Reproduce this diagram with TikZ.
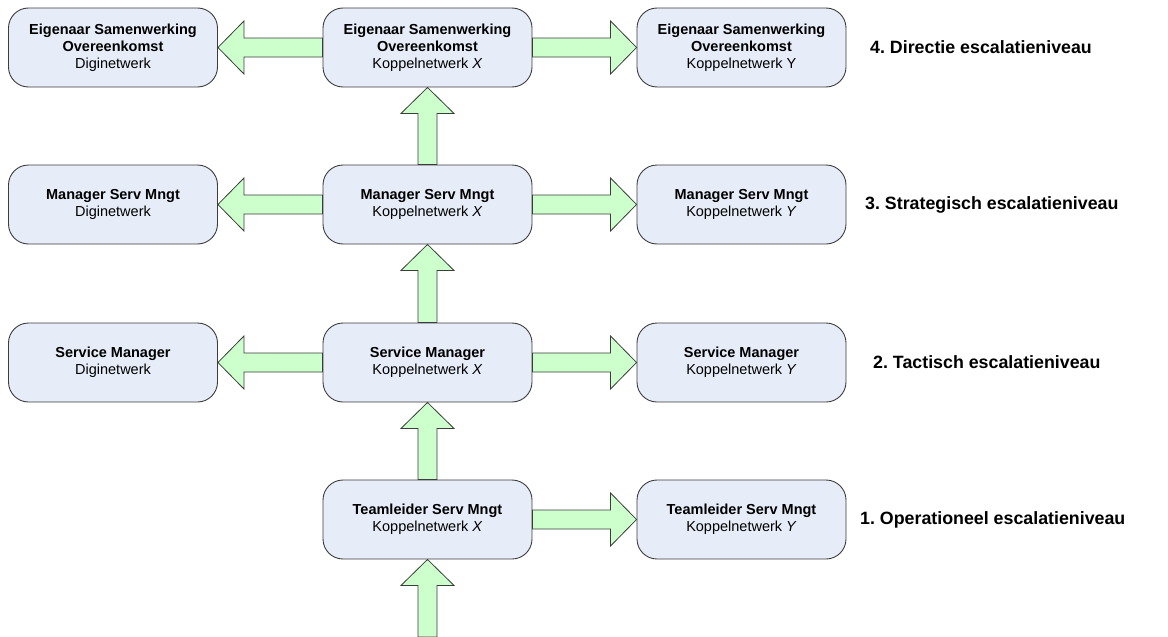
\documentclass[tikz,border=0pt]{standalone}
\usepackage{fontspec}
\setmainfont{Liberation Sans}
\usetikzlibrary{calc}
\frenchspacing

\definecolor{boxfill}{HTML}{E6ECF8}
\definecolor{boxline}{HTML}{3C3C3C}
\definecolor{arrowfill}{HTML}{CCFFCC}

% Block arrow from #1 to #2: shaft half width 9.5pt, head half width 26.5pt, head length 26pt
\newcommand\fatarrow[2]{%
  \path (#1) coordinate (fa-s) (#2) coordinate (fa-e);
  \path ($(fa-e)!26pt!(fa-s)$) coordinate (fa-b);
  \draw[fatarrow]
    ($(fa-s)!9.5pt!90:(fa-e)$) --
    ($(fa-b)!9.5pt!-90:(fa-s)$) --
    ($(fa-b)!26.5pt!-90:(fa-s)$) --
    (fa-e) --
    ($(fa-b)!26.5pt!90:(fa-s)$) --
    ($(fa-b)!9.5pt!90:(fa-s)$) --
    ($(fa-s)!9.5pt!-90:(fa-e)$) -- cycle;}

\tikzset{
  rolebox/.style={draw=boxline, fill=boxfill, line width=0.9pt,
    rounded corners=20pt, minimum width=209pt, minimum height=79pt,
    align=center, inner sep=0pt, text=black,
    font=\fontsize{14.5}{17}\selectfont},
  fatarrow/.style={draw=boxline, fill=arrowfill, line width=0.8pt, line join=miter},
  levellabel/.style={anchor=west, inner sep=0pt, text=black,
    font=\fontsize{17.8}{20}\selectfont\bfseries},
}

\begin{document}
\begin{tikzpicture}[x=1pt, y=-1pt]
  \useasboundingbox (0,0) rectangle (1168,637);

  % level 4
  \node[rolebox] (l4) at (113,47.5)
    {\textbf{Eigenaar Samenwerking}\\\textbf{Overeenkomst}\\Diginetwerk};
  \node[rolebox] (m4) at (427.5,47.5)
    {\textbf{Eigenaar Samenwerking}\\\textbf{Overeenkomst}\\Koppelnetwerk \textit{X}};
  \node[rolebox] (r4) at (741.5,47.5)
    {\textbf{Eigenaar Samenwerking}\\\textbf{Overeenkomst}\\Koppelnetwerk Y};

  % level 3
  \node[rolebox] (l3) at (113,204.5)
    {\textbf{Manager Serv Mngt}\\Diginetwerk};
  \node[rolebox] (m3) at (427.5,204.5)
    {\textbf{Manager Serv Mngt}\\Koppelnetwerk \textit{X}};
  \node[rolebox] (r3) at (741.5,204.5)
    {\textbf{Manager Serv Mngt}\\Koppelnetwerk \textit{Y}};

  % level 2
  \node[rolebox] (l2) at (113,362.5)
    {\textbf{Service Manager}\\Diginetwerk};
  \node[rolebox] (m2) at (427.5,362.5)
    {\textbf{Service Manager}\\Koppelnetwerk \textit{X}};
  \node[rolebox] (r2) at (741.5,362.5)
    {\textbf{Service Manager}\\Koppelnetwerk \textit{Y}};

  % level 1
  \node[rolebox] (m1) at (427.5,519.5)
    {\textbf{Teamleider Serv Mngt}\\Koppelnetwerk \textit{X}};
  \node[rolebox] (r1) at (741.5,519.5)
    {\textbf{Teamleider Serv Mngt}\\Koppelnetwerk \textit{Y}};

  \coordinate (in) at (427.5,637);

  % escalation arrows
  \fatarrow{in}{m1.south}
  \fatarrow{m1.north}{m2.south}
  \fatarrow{m2.north}{m3.south}
  \fatarrow{m3.north}{m4.south}
  \fatarrow{m1.east}{r1.west}
  \fatarrow{m2.east}{r2.west}
  \fatarrow{m3.east}{r3.west}
  \fatarrow{m4.east}{r4.west}
  \fatarrow{m2.west}{l2.east}
  \fatarrow{m3.west}{l3.east}
  \fatarrow{m4.west}{l4.east}

  % level labels
  \node[levellabel] (t4) at (870,47.5) {4. Directie escalatieniveau};
  \node[levellabel] (t3) at (865,204.5) {3. Strategisch escalatieniveau};
  \node[levellabel] (t2) at (873,362.5) {2. Tactisch escalatieniveau};
  \node[levellabel] (t1) at (860,519.5) {1. Operationeel escalatieniveau};
\end{tikzpicture}
\end{document}
